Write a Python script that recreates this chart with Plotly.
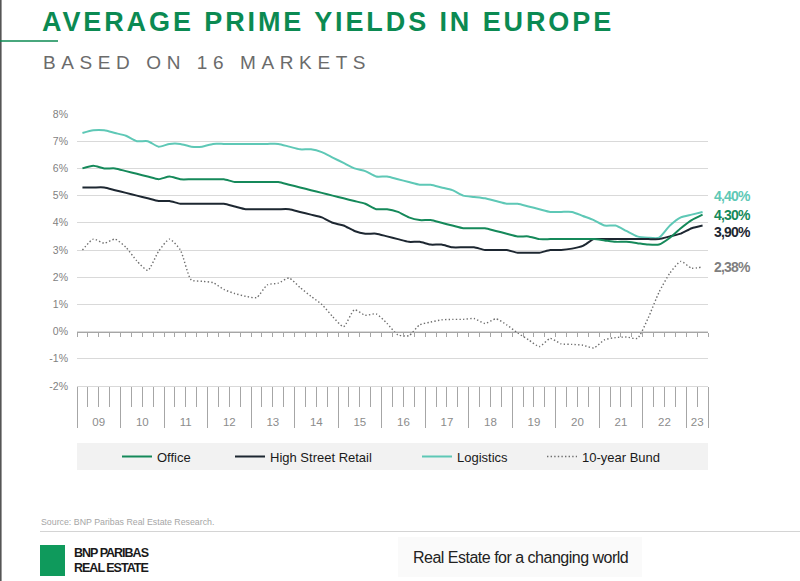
import plotly.graph_objects as go

# ---------------- data ----------------
years = ["09", "10", "11", "12", "13", "14", "15", "16", "17", "18", "19", "20", "21", "22", "23"]
quarters_per_year = [4, 4, 4, 4, 4, 4, 4, 4, 4, 4, 4, 4, 4, 4, 2]
quarter_labels = [f"Q{q + 1} 20{y}" for y, n in zip(years, quarters_per_year) for q in range(n)]

office = [6.0, 6.1, 6.0, 6.0, 5.9, 5.8, 5.7, 5.6, 5.7, 5.6,
          5.6, 5.6, 5.6, 5.6, 5.5, 5.5, 5.5, 5.5, 5.5, 5.4,
          5.3, 5.2, 5.1, 5.0, 4.9, 4.8, 4.7, 4.5, 4.5, 4.4,
          4.2, 4.1, 4.1, 4.0, 3.9, 3.8, 3.8, 3.8, 3.7, 3.6,
          3.5, 3.5, 3.4, 3.4, 3.4, 3.4, 3.4, 3.4, 3.35, 3.3,
          3.3, 3.25, 3.2, 3.2, 3.45, 3.8, 4.1, 4.3]

retail = [5.3, 5.3, 5.3, 5.2, 5.1, 5.0, 4.9, 4.8, 4.8, 4.7,
          4.7, 4.7, 4.7, 4.7, 4.6, 4.5, 4.5, 4.5, 4.5, 4.5,
          4.4, 4.3, 4.2, 4.0, 3.9, 3.7, 3.6, 3.6, 3.5, 3.4,
          3.3, 3.3, 3.2, 3.2, 3.1, 3.1, 3.1, 3.0, 3.0, 3.0,
          2.9, 2.9, 2.9, 3.0, 3.0, 3.05, 3.15, 3.4, 3.4, 3.4,
          3.4, 3.4, 3.4, 3.4, 3.5, 3.6, 3.8, 3.9]

logistics = [7.3, 7.4, 7.4, 7.3, 7.2, 7.0, 7.0, 6.8, 6.9, 6.9,
             6.8, 6.8, 6.9, 6.9, 6.9, 6.9, 6.9, 6.9, 6.9, 6.8,
             6.7, 6.7, 6.6, 6.4, 6.2, 6.0, 5.9, 5.7, 5.7, 5.6,
             5.5, 5.4, 5.4, 5.3, 5.2, 5.0, 4.95, 4.9, 4.8, 4.7,
             4.7, 4.6, 4.5, 4.4, 4.4, 4.4, 4.25, 4.1, 3.9, 3.9,
             3.7, 3.5, 3.45, 3.45, 3.9, 4.2, 4.3, 4.4]

bund = [3.0, 3.4, 3.25, 3.4, 3.1, 2.6, 2.25, 2.95, 3.4, 3.0,
        1.9, 1.85, 1.8, 1.55, 1.4, 1.3, 1.25, 1.72, 1.78, 1.97,
        1.62, 1.3, 1.0, 0.55, 0.18, 0.8, 0.6, 0.65, 0.3, -0.12,
        -0.15, 0.25, 0.35, 0.43, 0.45, 0.45, 0.48, 0.3, 0.47, 0.25,
        -0.05, -0.3, -0.55, -0.25, -0.45, -0.47, -0.5, -0.6, -0.3, -0.22,
        -0.2, -0.25, 0.5, 1.45, 2.15, 2.58, 2.33, 2.38]

y_ticks = [-2, -1, 0, 1, 2, 3, 4, 5, 6, 7, 8]
y_ticktext = ["-2%", "-1%", "0%", "1%", "2%", "3%", "4%", "5%", "6%", "7%", "8%"]

series_names = ["Office", "High Street Retail", "Logistics", "10-year Bund"]
end_labels = ["4,30%", "3,90%", "4,40%", "2,38%"]

# ---------------- styling ----------------
C_OFFICE = "#15895a"
C_RETAIL = "#1d2731"
C_LOGI = "#5ec8b6"
C_BUND = "#6e6e6e"
C_TITLE = "#0b8a52"
GRID = "#d9d9d9"
TICK = "#a6a6a6"
SANS = "Liberation Sans, Arial, sans-serif"

W, H = 800, 581
ML, MR, MT, MB = 77, 92, 114, 195
PW, PH = W - ML - MR, H - MT - MB


def px_x(px):
    return (px - ML) / PW


def px_y(py):
    return (H - MB - py) / PH


x = list(range(len(quarter_labels)))
year_start = []
s = 0
for n in quarters_per_year:
    year_start.append(s)
    s += n
year_bounds = [v - 0.5 for v in year_start] + [len(x) - 0.5]
year_centers = [st + (n - 1) / 2 for st, n in zip(year_start, quarters_per_year)]
xr = [-0.5, len(x) - 0.5]

fig = go.Figure()

fig.add_trace(go.Scatter(x=x, y=bund, name=series_names[3], mode="lines", legend="legend4",
                         line=dict(color=C_BUND, width=1.4, dash="1.4px,2.2px", shape="spline", smoothing=0.6),
                         customdata=quarter_labels))
fig.add_trace(go.Scatter(x=x, y=logistics, name=series_names[2], mode="lines", legend="legend3",
                         line=dict(color=C_LOGI, width=2, shape="spline", smoothing=0.6),
                         customdata=quarter_labels))
fig.add_trace(go.Scatter(x=x, y=retail, name=series_names[1], mode="lines", legend="legend2",
                         line=dict(color=C_RETAIL, width=2, shape="spline", smoothing=0.6),
                         customdata=quarter_labels))
fig.add_trace(go.Scatter(x=x, y=office, name=series_names[0], mode="lines", legend="legend",
                         line=dict(color=C_OFFICE, width=2, shape="spline", smoothing=0.6),
                         customdata=quarter_labels))
# helper (empty) traces so the extra axes render
fig.add_trace(go.Scatter(x=[None], y=[None], xaxis="x2", showlegend=False, hoverinfo="skip"))
fig.add_trace(go.Scatter(x=[None], y=[None], xaxis="x3", showlegend=False, hoverinfo="skip"))

leg_common = dict(orientation="h", yanchor="middle", xanchor="left", bgcolor="rgba(0,0,0,0)",
                  font=dict(family=SANS, size=13, color="#1a1a1a"), borderwidth=0)
legend_y = px_y(456.5)

fig.update_layout(
    width=W, height=H,
    margin=dict(l=ML, r=MR, t=MT, b=MB, pad=0),
    paper_bgcolor="white", plot_bgcolor="white",
    showlegend=True,
    legend=dict(x=px_x(117), y=legend_y, **leg_common),
    legend2=dict(x=px_x(230), y=legend_y, **leg_common),
    legend3=dict(x=px_x(417), y=legend_y, **leg_common),
    legend4=dict(x=px_x(542), y=legend_y, **leg_common),
    yaxis=dict(range=[-2, 8], tickmode="array", tickvals=y_ticks, ticktext=y_ticktext,
               showgrid=True, gridcolor=GRID, gridwidth=1, zeroline=False, showline=False,
               ticks="", ticklabelstandoff=8,
               tickfont=dict(family=SANS, size=10.5, color="#7f7f7f")),
    xaxis=dict(range=xr, tickmode="array", tickvals=year_bounds, ticks="outside", ticklen=41,
               tickcolor=TICK, tickwidth=1, showticklabels=False, showgrid=False, zeroline=False,
               showline=True, linecolor=GRID, linewidth=1,
               minor=dict(tickmode="linear", tick0=-0.5, dtick=1, ticks="outside", ticklen=20,
                          tickcolor=TICK, tickwidth=1, showgrid=False)),
    xaxis2=dict(range=xr, overlaying="x", anchor="free", position=0.2, tickmode="linear",
                tick0=-0.5, dtick=1, ticks="outside", ticklen=4, tickcolor=TICK, tickwidth=1,
                showticklabels=False, showgrid=False, zeroline=False, showline=True,
                linecolor=TICK, linewidth=1),
    xaxis3=dict(range=xr, overlaying="x", anchor="y", side="bottom", tickmode="array",
                tickvals=year_centers, ticktext=years, ticks="", showline=False, showgrid=False,
                zeroline=False, ticklabelstandoff=27,
                tickfont=dict(family=SANS, size=11.5, color="#8c8c8c")),
)

shapes = [
    # legend band
    dict(type="rect", xref="paper", yref="paper", x0=0, x1=1, y0=px_y(470), y1=px_y(443),
         fillcolor="#f2f2f2", line=dict(width=0), layer="below"),
    # left page border
    dict(type="line", xref="paper", yref="paper", x0=px_x(0.8), x1=px_x(0.8), y0=px_y(0), y1=px_y(H),
         line=dict(color="#555555", width=1.6)),
    # green rule under title
    dict(type="line", xref="paper", yref="paper", x0=px_x(0), x1=px_x(58), y0=px_y(41), y1=px_y(41),
         line=dict(color=C_TITLE, width=1.3)),
    # footer rule
    dict(type="line", xref="paper", yref="paper", x0=px_x(40), x1=px_x(800), y0=px_y(531.5), y1=px_y(531.5),
         line=dict(color="#d4d4d4", width=1.2)),
    # tagline box
    dict(type="rect", xref="paper", yref="paper", x0=px_x(398), x1=px_x(642), y0=px_y(577), y1=px_y(537),
         fillcolor="#fafafa", line=dict(width=0), layer="below"),
    # logo square
    dict(type="rect", xref="paper", yref="paper", x0=px_x(40), x1=px_x(65), y0=px_y(576), y1=px_y(545),
         fillcolor="#0f9a5c", line=dict(width=0)),
]
fig.update_layout(shapes=shapes)

annotations = [
    dict(text='<b><span style="letter-spacing:2.9px">AVERAGE PRIME YIELDS IN EUROPE</span></b>',
         xref="paper", yref="paper", x=px_x(40), y=px_y(22), xanchor="left", yanchor="middle",
         showarrow=False, font=dict(family=SANS, size=27, color=C_TITLE)),
    dict(text='<span style="letter-spacing:5.6px">BASED ON 16 MARKETS</span>',
         xref="paper", yref="paper", x=px_x(41), y=px_y(62), xanchor="left", yanchor="middle",
         showarrow=False, font=dict(family=SANS, size=19, color="#6b6b6b")),
    dict(text="Source: BNP Paribas Real Estate Research.",
         xref="paper", yref="paper", x=px_x(39), y=px_y(521.5), xanchor="left", yanchor="middle",
         showarrow=False, font=dict(family=SANS, size=8.8, color="#a6a6a6")),
    dict(text='<b><span style="letter-spacing:-1px">BNP PARIBAS</span></b>', xref="paper", yref="paper",
         x=px_x(72), y=px_y(553), xanchor="left", yanchor="middle", showarrow=False,
         font=dict(family=SANS, size=12.5, color="#1a1a1a")),
    dict(text='<b><span style="letter-spacing:-1px">REAL ESTATE</span></b>', xref="paper", yref="paper",
         x=px_x(72), y=px_y(568), xanchor="left", yanchor="middle", showarrow=False,
         font=dict(family=SANS, size=12.5, color="#1a1a1a")),
    dict(text='<span style="letter-spacing:-0.5px">Real Estate for a changing world</span>',
         xref="paper", yref="paper", x=px_x(520), y=px_y(557),
         xanchor="center", yanchor="middle", showarrow=False,
         font=dict(family=SANS, size=16, color="#222222")),
]

end_values = [office[-1], retail[-1], logistics[-1], bund[-1]]
end_colors = [C_OFFICE, C_RETAIL, C_LOGI, "#7f7f7f"]
end_shift = [0, -6, 16, 0]
for lbl, v, c, sh in zip(end_labels, end_values, end_colors, end_shift):
    annotations.append(dict(text=f'<b><span style="letter-spacing:-0.8px">{lbl}</span></b>',
                            xref="paper", yref="y", x=1, y=v, xanchor="left",
                            yanchor="middle", xshift=4, yshift=sh, showarrow=False,
                            font=dict(family=SANS, size=14, color=c)))

fig.update_layout(annotations=annotations)

fig.write_html("out.html")
